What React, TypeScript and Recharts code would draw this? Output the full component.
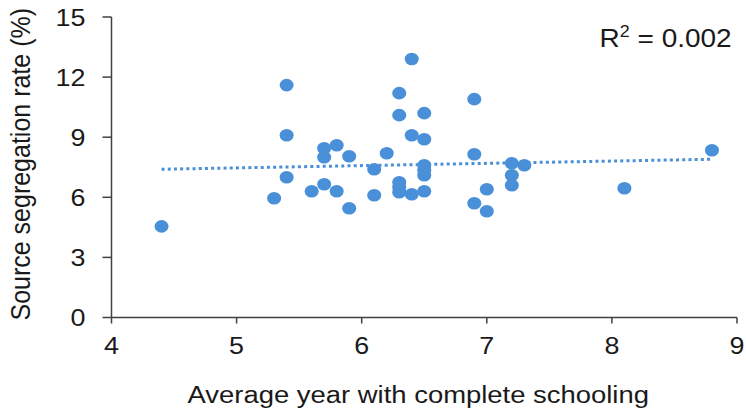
import React from 'react';
import { ScatterChart, Scatter, XAxis, YAxis, ReferenceLine, Label } from 'recharts';

const schoolingYears = [4.4, 5.3, 5.4, 5.4, 5.4, 5.6, 5.7, 5.7, 5.7, 5.8, 5.8, 5.9, 5.9, 6.1, 6.1, 6.2, 6.3, 6.3, 6.3, 6.3, 6.3, 6.4, 6.4, 6.4, 6.5, 6.5, 6.5, 6.5, 6.5, 6.5, 6.9, 6.9, 6.9, 7.0, 7.0, 7.2, 7.2, 7.2, 7.3, 8.1, 8.8];
const segregationRates = [4.55, 5.95, 11.6, 9.1, 7.0, 6.3, 8.45, 8.0, 6.65, 8.6, 6.3, 8.05, 5.45, 7.4, 6.1, 8.2, 11.2, 10.1, 6.75, 6.5, 6.25, 12.9, 9.1, 6.15, 10.2, 8.9, 7.6, 7.35, 7.1, 6.3, 10.9, 8.15, 5.7, 6.4, 5.3, 7.7, 7.1, 6.6, 7.6, 6.45, 8.35];
const xTicks = [4, 5, 6, 7, 8, 9];
const yTicks = [0, 3, 6, 9, 12, 15];
const trendX = [4.4, 8.8];
const trendY = [7.4, 7.9];
const xTitle = 'Average year with complete schooling';
const yTitle = 'Source segregation rate (%)';
const r2Value = '0.002';

const data = schoolingYears.map((x, i) => ({ x, y: segregationRates[i] }));

const BLUE = '#4A90D9';
const AXIS = '#404040';
const TEXT = '#1a1a1a';
const FONT = '"Liberation Sans", Arial, sans-serif';
const SX = 1.12;

const stretch = (x: number, y: number) => `translate(${x}, ${y}) scale(${SX}, 1) translate(${-x}, ${-y})`;

const Dot = (props: any) => {
  const { cx, cy } = props;
  if (cx == null || cy == null) return null;
  return <ellipse cx={cx} cy={cy} rx={7} ry={6.3} fill={BLUE} />;
};

const XTick = (props: any) => {
  const { x, y, payload } = props;
  return (
    <text x={x} y={y} dy="0.71em" textAnchor="middle" fontSize={24} fontFamily={FONT} fill={TEXT} transform={stretch(x, y)}>
      {payload.value}
    </text>
  );
};

const YTick = (props: any) => {
  const { x, y, payload } = props;
  return (
    <text x={x} y={y} dy="0.355em" textAnchor="end" fontSize={24} fontFamily={FONT} fill={TEXT} transform={stretch(x, y)}>
      {payload.value}
    </text>
  );
};

const YTitle = (props: any) => {
  const vb = props.viewBox || { x: 0, y: 0, width: 0, height: 0 };
  const cx = vb.x + 30;
  const cy = vb.y + vb.height / 2 - 3;
  return (
    <text
      x={0}
      y={0}
      transform={`translate(${cx}, ${cy}) scale(${SX}, 1) rotate(-90)`}
      textAnchor="middle"
      fontSize={25}
      fontFamily={FONT}
      fill={TEXT}
    >
      {yTitle}
    </text>
  );
};

const XTitle = (props: any) => {
  const vb = props.viewBox || { x: 0, y: 0, width: 0, height: 0 };
  const cx = vb.x + vb.width / 2 - 6;
  const cy = vb.y + 85.5;
  return (
    <text x={cx} y={cy} textAnchor="middle" fontSize={24.5} fontFamily={FONT} fill={TEXT} transform={stretch(cx, cy)}>
      {xTitle}
    </text>
  );
};

export default function App() {
  return (
    <div style={{ position: 'absolute', left: 0, top: 0, width: 746, height: 414, background: '#fff' }}>
      <ScatterChart width={746} height={414} margin={{ top: 17, right: 9, bottom: 0, left: 0 }}>
        <XAxis
          type="number"
          dataKey="x"
          domain={[4, 9]}
          ticks={xTicks}
          allowDataOverflow
          height={96.5}
          tickSize={6}
          tickMargin={13.3}
          axisLine={{ stroke: AXIS, strokeWidth: 1.5 }}
          tickLine={{ stroke: AXIS, strokeWidth: 1.5 }}
          tick={<XTick />}
        >
          <Label content={<XTitle />} />
        </XAxis>
        <YAxis
          type="number"
          dataKey="y"
          domain={[0, 15]}
          ticks={yTicks}
          allowDataOverflow
          width={111.5}
          tickSize={9}
          tickMargin={17}
          axisLine={{ stroke: AXIS, strokeWidth: 1.5 }}
          tickLine={{ stroke: AXIS, strokeWidth: 1.5 }}
          tick={<YTick />}
        >
          <Label content={<YTitle />} />
        </YAxis>
        <ReferenceLine
          segment={[
            { x: trendX[0], y: trendY[0] },
            { x: trendX[1], y: trendY[1] },
          ]}
          stroke={BLUE}
          strokeWidth={3}
          strokeDasharray="3 3.2"
        />
        <Scatter data={data} fill={BLUE} shape={<Dot />} isAnimationActive={false} />
      </ScatterChart>
      <svg width={746} height={414} style={{ position: 'absolute', left: 0, top: 0, pointerEvents: 'none' }}>
        <text
          x={731.7}
          y={46.7}
          textAnchor="end"
          fontSize={25}
          fontFamily={FONT}
          fill={TEXT}
          transform={stretch(731.7, 46.7)}
        >
          R
          <tspan fontSize={16} dy={-9.5}>2</tspan>
          <tspan dy={9.5}>{` = ${r2Value}`}</tspan>
        </text>
      </svg>
    </div>
  );
}
